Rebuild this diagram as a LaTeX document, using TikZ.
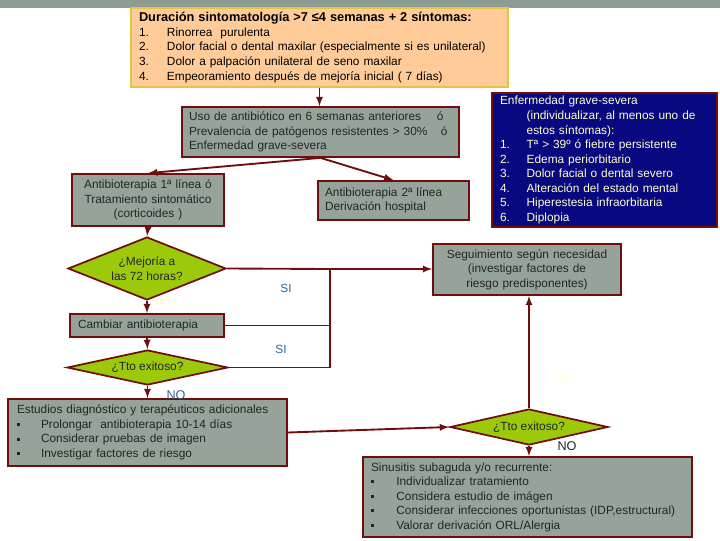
\documentclass[tikz,border=0pt]{standalone}
\usepackage{fontspec}
\setmainfont{Liberation Sans}
\usetikzlibrary{shapes.geometric}

\definecolor{band}{RGB}{140,156,146}
\definecolor{peach}{RGB}{255,204,153}
\definecolor{gold}{RGB}{232,194,68}
\definecolor{boxgray}{RGB}{150,163,154}
\definecolor{maroon}{RGB}{112,14,14}
\definecolor{navy}{RGB}{8,8,128}
\definecolor{paleyel}{RGB}{255,255,204}
\definecolor{lime}{RGB}{156,202,10}
\definecolor{siblue}{RGB}{45,105,150}
\definecolor{boxtext}{RGB}{35,38,36}

\newcommand{\fsz}{\fontsize{8.9}{10.9}\selectfont}
\newcommand{\numit}[3][21pt]{\makebox[#1][l]{#2}#3}
\newcommand{\bul}{\rule[1.6pt]{2.4pt}{2.4pt}}

\begin{document}
\begin{tikzpicture}[x=0.75pt,y=-0.75pt,
	box/.style={draw=maroon, fill=boxgray, line width=1.3pt, inner sep=0pt, text=boxtext, font=\fsz},
	ask/.style={diamond, draw=maroon, fill=lime, line width=1.3pt, inner sep=0pt, text=boxtext, font=\fsz, align=center},
	arr/.style={draw=maroon, line width=1.4pt, -latex},
	lin/.style={draw=maroon, line width=1.4pt},
	lbl/.style={font=\fsz, inner sep=0pt}]

		\useasboundingbox (0,0) rectangle (720,540);

		% Band on top
		\fill[band] (0,0) rectangle (720,8);

		% Criteria (peach)
		\node[draw=gold, fill=peach, line width=1.4pt, inner sep=0pt, font=\fsz, text=black,
			minimum width=282.75pt, minimum height=59.25pt, text width=270.75pt, align=left] (crit) at (319.5,47.5)
			{{\fontsize{9.6}{10.9}\selectfont\textbf{Duración sintomatología >7 ≤4 semanas + 2 síntomas:}}\\
			\numit{1.}{Rinorrea~ purulenta}\\
			\numit{2.}{Dolor facial o dental maxilar (especialmente si es unilateral)}\\
			\numit{3.}{Dolor a palpación unilateral de seno maxilar}\\
			\numit{4.}{Empeoramiento después de mejoría inicial ( 7 días)}};

		% Risk box
		\node[box, minimum width=207.75pt, minimum height=37.5pt, text width=197.25pt, align=left] (risk) at (320.5,132)
			{\makebox[186pt][l]{Uso de antibiótico en 6 semanas anteriores}ó\\
			\makebox[189pt][l]{Prevalencia de patógenos resistentes > 30\%}ó\\
			Enfermedad grave-severa};

		% First and second line
		\node[box, minimum width=114pt, minimum height=39pt, text width=110pt, align=center] (first) at (148,200)
			{Antibioterapia 1ª línea ó\\ Tratamiento sintomático\\ (corticoides )};
		\node[box, minimum width=113.25pt, minimum height=29.25pt, text width=102.75pt, align=left] (second) at (393.5,200.5)
			{Antibioterapia 2ª línea\\ Derivación hospital};

		% Severe disease (navy)
		\node[box, fill=navy, text=paleyel, minimum width=168.75pt, minimum height=100.5pt, text width=156.75pt, align=left] (grave) at (604.5,160)
			{Enfermedad grave-severa\\
			\hspace*{20pt}(individualizar, al menos uno de\\
			\hspace*{20pt}estos síntomas):\\
			\numit[20pt]{1.}{Tª > 39º ó fiebre persistente}\\
			\numit[20pt]{2.}{Edema periorbitario}\\
			\numit[20pt]{3.}{Dolor facial o dental severo}\\
			\numit[20pt]{4.}{Alteración del estado mental}\\
			\numit[20pt]{5.}{Hiperestesia infraorbitaria}\\
			\numit[20pt]{6.}{Diplopia}};

		% Follow-up
		\node[box, minimum width=141pt, minimum height=38.25pt, text width=134pt, align=center] (follow) at (527,269.5)
			{Seguimiento según necesidad\\ (investigar factores de\\ riesgo predisponentes)};

		% Questions (green)
		\node[ask, shape aspect=2.5, minimum width=118.5pt, minimum height=47.25pt] (improve) at (147,268.5) {¿Mejoría a\\ las 72 horas?};
		\node[box, minimum width=115.5pt, minimum height=17.25pt, text width=103.5pt, align=left] (change) at (147,325.5)
			{Cambiar antibioterapia};
		\node[ask, shape aspect=4.6, minimum width=120.75pt, minimum height=26.25pt] (success) at (147.5,367.5) {¿Tto exitoso?};
		\node[ask, shape aspect=4.4, minimum width=118.5pt, minimum height=27pt] (success2) at (529,427) {¿Tto exitoso?};

		% Further studies
		\node[box, minimum width=209.25pt, minimum height=50.25pt, text width=195.75pt, align=left] (studies) at (147.5,432.5)
			{Estudios diagnóstico y terapéuticos adicionales\\
			\numit[18pt]{\bul}{Prolongar~ antibioterapia 10-14 días}\\
			\numit[18pt]{\bul}{Considerar pruebas de imagen}\\
			\numit[18pt]{\bul}{Investigar factores de riesgo}};

		% Subacute
		\node[box, minimum width=246.75pt, minimum height=60pt, text width=234.75pt, align=left] (subacute) at (527.5,497)
			{Sinusitis subaguda y/o recurrente:\\
			\numit[19pt]{\bul}{Individualizar tratamiento}\\
			\numit[19pt]{\bul}{Considera estudio de imágen}\\
			\numit[19pt]{\bul}{Considerar infecciones oportunistas (IDP,estructural)}\\
			\numit[19pt]{\bul}{Valorar derivación ORL/Alergia}};

		% Junctions
		\coordinate (j1) at (330,269);
		\coordinate (j2) at (j1 |- change.east);
		\coordinate (j3) at (j1 |- success.east);

		% Connectors
		\draw[arr] (crit.south) -- (crit.south |- risk.north);
		\draw[arr] (risk.south) -- (first.north);
		\draw[arr] (risk.south) -- (second.north);
		\draw[arr] (first.south) -- (improve.north);
		\draw[arr] (improve.south) -- (change.north);
		\draw[arr] (change.south) -- (success.north);
		\draw[arr] (success.south) -- (studies.north);
		\draw[lin] (improve.east) -- (j1);
		\draw[arr] (j1) -- (j1 -| follow.west);
		\draw[lin] (change.east) -- (j2);
		\draw[lin] (success.east) -- (j3) -- (j1);
		\draw[arr] (studies.east) -- (success2.west);
		\draw[arr] (success2.north) -- (success2.north |- follow.south);
		\draw[arr] (success2.south) -- (success2.south |- subacute.north);

		% Labels
		\node[lbl, text=siblue] (si1) at (286,288) {SI};
		\node[lbl, text=siblue] (si2) at (281,349) {SI};
		\node[lbl, text=paleyel] (no1) at (162,302) {NO};
		\node[lbl, text=siblue, font=\fontsize{9.5}{11}\selectfont] (no2) at (176,395) {NO};
		\node[lbl, text=paleyel] (si3) at (563,378) {SI};
		\node[lbl, text=boxtext, font=\fontsize{9.5}{11}\selectfont] (no3) at (567,446) {NO};

	\end{tikzpicture}
\end{document}
